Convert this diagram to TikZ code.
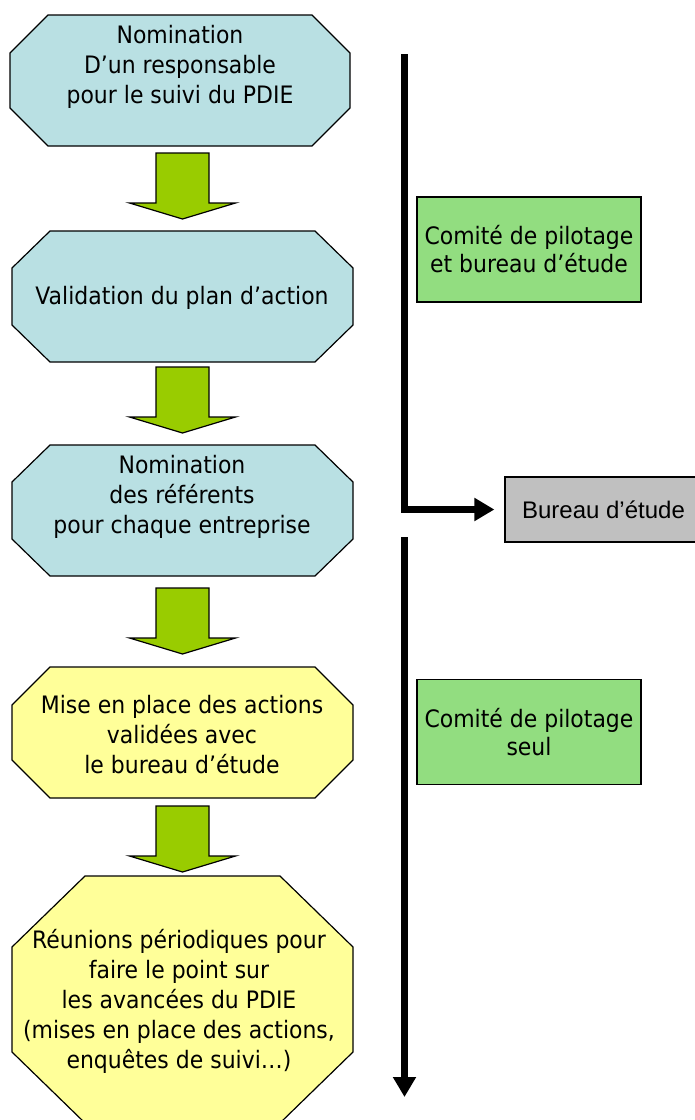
\documentclass[tikz,border=0pt]{standalone}
\usepackage{fontspec}
\setmainfont[FakeStretch=0.915]{DejaVu Sans}
\newfontfamily\arialf{Liberation Sans}
\usetikzlibrary{arrows.meta}
\definecolor{octblue}{HTML}{B9E0E3}
\definecolor{octyellow}{HTML}{FFFF99}
\definecolor{arrgreen}{HTML}{99CC00}
\definecolor{boxgreen}{HTML}{92DD80}
\definecolor{boxgray}{HTML}{C0C0C0}
\newcommand\myocta[7]{%
  \draw[#7] ({#1+#5},#2) -- ({#3-#5},#2) -- (#3,{#2+#6}) -- (#3,{#4-#6}) -- ({#3-#5},#4)
    -- ({#1+#5},#4) -- (#1,{#4-#6}) -- (#1,{#2+#6}) -- cycle;}
\tikzset{
  octbox/.style={draw=black, line width=1.2pt, line join=miter},
  blue/.style={octbox, fill=octblue},
  yellow/.style={octbox, fill=octyellow},
  txt/.style={inner sep=0pt, align=center, font=\fontsize{24}{30}\selectfont},
  sidebox/.style={draw=black, line width=1.2pt, fill=boxgreen, minimum width=224pt,
     minimum height=105pt, align=center, inner sep=0pt, font=\fontsize{24}{28}\selectfont},
  graybox/.style={draw=black, line width=1.2pt, fill=boxgray, minimum width=197pt,
     minimum height=65pt, inner sep=0pt, font=\arialf\fontsize{24}{28}\selectfont},
  heavy/.style={line width=7pt, line cap=butt, line join=miter},
  heavyarr/.style={heavy, -{Triangle[length=20pt,width=22pt]}},
  downarrow/.pic={\draw[fill=arrgreen, draw=black, line width=1.2pt, line join=miter]
     (-26.5,0) -- (26.5,0) -- (26.5,50) -- (53,50) -- (0,66) -- (-53,50) -- (-26.5,50) -- cycle;}
}
\begin{document}
\begin{tikzpicture}[x=1pt,y=-1pt]
\useasboundingbox (0,0) rectangle (695,1120);
% octagons
\myocta{10}{15}{350}{146}{38}{38}{blue}
\node[txt] (n1) at (180,67) {Nomination\\D’un responsable\\pour le suivi du PDIE};
\myocta{12}{231}{353}{362}{38}{37}{blue}
\node[txt] (n2) at (182,298) {Validation du plan d’action};
\myocta{12}{445}{353}{576}{38}{37}{blue}
\node[txt] (n3) at (182,497) {Nomination\\des référents\\pour chaque entreprise};
\myocta{12}{667}{353}{798}{38}{38}{yellow}
\node[txt] (n4) at (182,735) {Mise en place des actions\\validées avec\\le bureau d’étude};
\myocta{12}{876}{353}{1123}{73}{71}{yellow}
\node[txt] (n5) at (179,1001) {Réunions périodiques pour\\faire le point sur\\les avancées du PDIE\\(mises en place des actions,\\enquêtes de suivi…)};
% block arrows
\pic at (182.5,153) {downarrow};
\pic at (182.5,367) {downarrow};
\pic at (182.5,588) {downarrow};
\pic at (182.5,806) {downarrow};
% right side
\node[sidebox] (g1) at (529,249.5) {Comité de pilotage\\et bureau d’étude};
\node[sidebox] (g2) at (529,732) {Comité de pilotage\\seul};
\node[graybox] (bur) at (603.5,509.5) {Bureau d’étude};
\coordinate (ltop) at (404.5,54);
\coordinate (l2top) at (404.5,537);
\coordinate (l2end) at (404.5,1097);
\draw[heavyarr] (ltop) |- ([xshift=-10pt]bur.west);
\draw[heavyarr] (l2top) -- (l2end);
\end{tikzpicture}
\end{document}
